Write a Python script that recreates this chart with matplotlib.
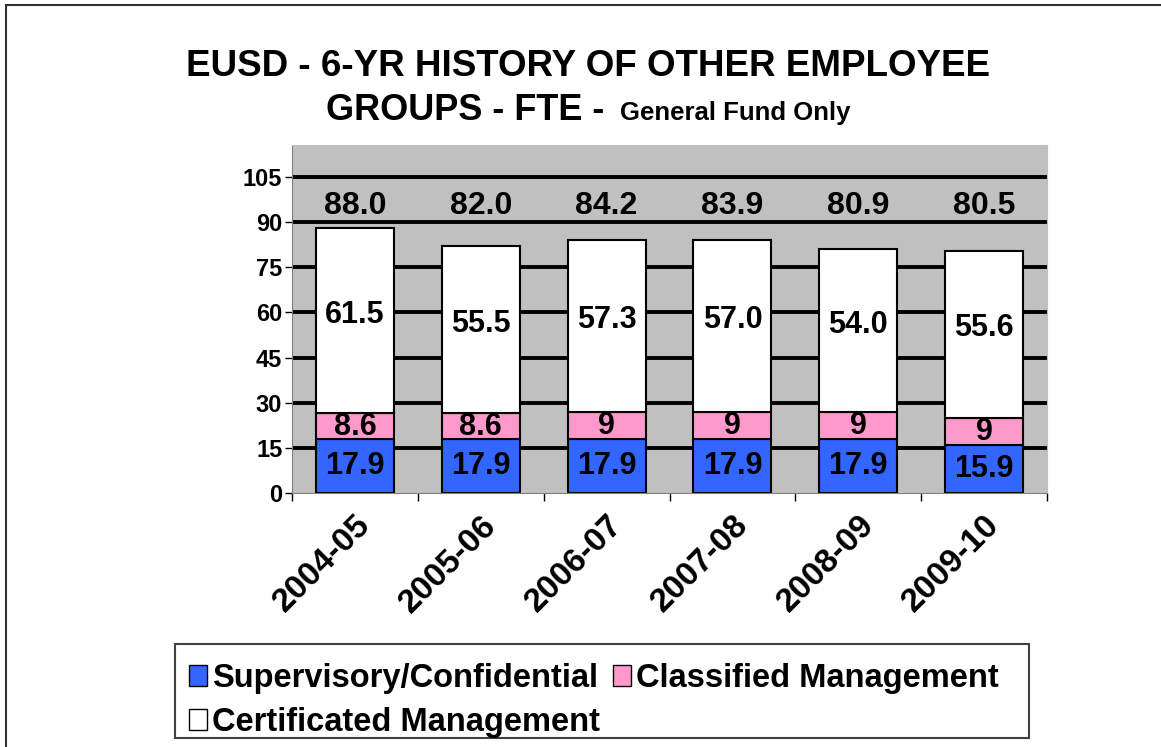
import numpy as np
import matplotlib.pyplot as plt
from matplotlib.patches import Rectangle, Patch

plt.rcParams['font.family'] = ['Liberation Sans', 'DejaVu Sans']
plt.rcParams['font.weight'] = 'bold'

years = ["2004-05", "2005-06", "2006-07", "2007-08", "2008-09", "2009-10"]
supervisory = [17.9, 17.9, 17.9, 17.9, 17.9, 15.9]
classified = [8.6, 8.6, 9, 9, 9, 9]
certificated = [61.5, 55.5, 57.3, 57.0, 54.0, 55.6]
totals = [88.0, 82.0, 84.2, 83.9, 80.9, 80.5]
classified_labels = ["8.6", "8.6", "9", "9", "9", "9"]

blue = "#3366FF"
pink = "#FF99CC"
gray = "#C0C0C0"

fig = plt.figure(figsize=(11.61, 7.47), dpi=100)
ax = fig.add_axes([292 / 1161, 1 - 493 / 747, 755 / 1161, 348 / 747])
ax.set_facecolor(gray)

x = np.arange(len(years))
sup = np.array(supervisory)
cla = np.array(classified)
cer = np.array(certificated)

for yv in range(15, 106, 15):
    ax.axhline(yv, color="black", lw=2.8, zorder=1)

w = 0.62
ax.bar(x, sup, w, color=blue, edgecolor="black", lw=1.5, zorder=2)
ax.bar(x, cla, w, bottom=sup, color=pink, edgecolor="black", lw=1.5, zorder=2)
ax.bar(x, cer, w, bottom=sup + cla, color="white", edgecolor="black", lw=1.5, zorder=2)

fs = 22
for i in range(len(years)):
    ax.text(x[i], sup[i] / 2, f"{supervisory[i]:.1f}", ha="center", va="center",
            fontsize=fs, fontweight="bold", zorder=3)
    ax.text(x[i], sup[i] + cla[i] / 2 - 0.3, classified_labels[i], ha="center", va="center",
            fontsize=fs, fontweight="bold", zorder=3)
    ax.text(x[i], sup[i] + cla[i] + cer[i] / 2 + 2, f"{certificated[i]:.1f}", ha="center",
            va="center", fontsize=fs, fontweight="bold", zorder=3)
    ax.text(x[i], 95.5, f"{totals[i]:.1f}", ha="center", va="center",
            fontsize=23, fontweight="bold", zorder=3)

ax.set_xlim(-0.5, len(years) - 0.5)
ax.set_ylim(0, 115.6)
ax.set_yticks(range(0, 106, 15))
ax.tick_params(axis="y", labelsize=17, length=5, width=1, pad=2)
ax.set_xticks(x)
ax.set_xticklabels(years, rotation=45, ha="right", rotation_mode="anchor",
                   fontsize=24, fontweight="bold")
ax.tick_params(axis="x", length=0, pad=12)
ax.set_xticks(np.arange(-0.5, len(years), 1), minor=True)
ax.tick_params(axis="x", which="minor", length=6, width=1)
for lab in ax.get_yticklabels():
    lab.set_fontweight("bold")
for side in ["top", "right"]:
    ax.spines[side].set_color(gray)
ax.spines["left"].set_color("#808080")
ax.spines["bottom"].set_color("#808080")

fig.text(588 / 1161, 1 - 66 / 747, "EUSD - 6-YR HISTORY OF OTHER EMPLOYEE",
         ha="center", va="center", fontsize=26.5, fontweight="bold")
fig.text(614 / 1161, 1 - 110 / 747, "GROUPS - FTE - ", ha="right", va="center",
         fontsize=26, fontweight="bold")
fig.text(620 / 1161, 1 - 113 / 747, "General Fund Only", ha="left", va="center",
         fontsize=18.5, fontweight="bold")

# legend box
fig.patches.append(Rectangle((175 / 1161, 1 - 738 / 747), 854 / 1161, 94 / 747,
                             transform=fig.transFigure, fill=False,
                             edgecolor="#404040", lw=1.5))
handles = [Patch(facecolor=blue, edgecolor="black"),
           Patch(facecolor="white", edgecolor="black"),
           Patch(facecolor=pink, edgecolor="black")]
labels = ["Supervisory/Confidential", "Certificated Management", "Classified Management"]
fig.legend(handles, labels, ncol=2, loc="upper left",
           bbox_to_anchor=(176 / 1161, 1 - 650 / 747), frameon=False,
           prop={"size": 23.5, "weight": "bold"}, handlelength=0.55, handleheight=0.6,
           handletextpad=0.15, columnspacing=0.4, labelspacing=0.4, borderaxespad=0)

# outer frame (only top and left edges fall inside the picture)
fig.patches.append(Rectangle((6 / 1161, -0.1), 2, 1.1 - 5 / 747, transform=fig.transFigure,
                             fill=False, edgecolor="#303030", lw=1.5))

fig.savefig("out.png", dpi=100)
